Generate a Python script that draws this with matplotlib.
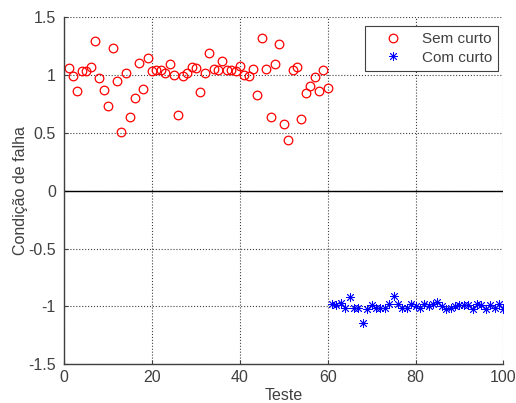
import numpy as np
import matplotlib
matplotlib.use('Agg')
import matplotlib.pyplot as plt

plt.rcParams['font.family'] = ['Liberation Sans', 'DejaVu Sans']

# Sem curto: testes 1..60
x_sem = np.arange(1, 61)
y_sem = [1.06, 0.99, 0.86, 1.03, 1.03, 1.07, 1.29, 0.97, 0.87, 0.73,
         1.23, 0.95, 0.51, 1.02, 0.64, 0.80, 1.10, 0.88, 1.15, 1.03,
         1.04, 1.04, 1.02, 1.09, 1.00, 0.65, 0.99, 1.02, 1.07, 1.06,
         0.85, 1.02, 1.19, 1.05, 1.04, 1.12, 1.04, 1.04, 1.03, 1.08,
         1.00, 0.99, 1.05, 0.83, 1.32, 1.05, 0.64, 1.09, 1.27, 0.58,
         0.44, 1.04, 1.07, 0.62, 0.84, 0.90, 0.98, 0.86, 1.04, 0.89]

# Com curto: testes 61..100
x_com = np.arange(61, 101)
y_com = [-0.98, -0.99, -0.97, -1.01, -0.92, -1.01, -1.01, -1.14, -1.02, -0.99,
         -1.01, -1.01, -1.01, -0.98, -0.91, -0.98, -1.01, -1.01, -0.98, -1.00,
         -1.01, -0.98, -1.00, -0.98, -0.96, -1.00, -1.02, -1.01, -1.00, -0.99,
         -0.99, -0.99, -1.02, -0.98, -0.99, -1.02, -0.99, -1.01, -0.98, -1.02]

xticks = [0, 20, 40, 60, 80, 100]
yticks = [-1.5, -1, -0.5, 0, 0.5, 1, 1.5]
ylabels = ['-1.5', '-1', '-0.5', '0', '0.5', '1', '1.5']

fig = plt.figure(figsize=(5.16, 4.03), dpi=100)
ax = fig.add_axes([64.3/516, 1 - 364.3/403, 439/516, 347.3/403])

ax.plot(x_sem, y_sem, 'o', mfc='none', mec='red', ms=6.2, mew=0.9, label='Sem curto')
ax.plot(x_com, y_com, ls='none', marker=(8, 2, 0), color='blue', ms=6.5, mew=0.6,
        label='Com curto')
ax.axhline(0, color='black', lw=1)

ax.set_xlim(0, 100)
ax.set_ylim(-1.5, 1.5)
ax.set_xticks(xticks)
ax.set_xticklabels([str(t) for t in xticks])
ax.set_yticks(yticks)
ax.set_yticklabels(ylabels)
ax.grid(True, ls=':', color='0.25', lw=0.8)
ax.tick_params(direction='in', length=3, labelsize=11.5, colors='#404040')
ax.tick_params(axis='y', pad=6)
ax.tick_params(axis='x', pad=4)
for s in ['top', 'right']:
    ax.spines[s].set_visible(False)
for s in ['left', 'bottom']:
    ax.spines[s].set_color('#404040')
    ax.spines[s].set_linewidth(1)

ax.set_xlabel('Teste', fontsize=11.5, color='#404040', labelpad=2)
ax.set_ylabel('Condição de falha', fontsize=11.5, color='#404040')
ax.yaxis.set_label_coords(-0.083, 0.5)

leg = ax.legend(loc='upper right', bbox_to_anchor=(0.988, 0.974), borderaxespad=0,
                fontsize=11, fancybox=False, edgecolor='#404040', framealpha=1,
                handlelength=2.8, handletextpad=0.5, borderpad=0.4,
                labelspacing=0.3)
leg.get_frame().set_linewidth(0.8)
for t in leg.get_texts():
    t.set_color('#404040')

fig.savefig('out.png', dpi=100)
